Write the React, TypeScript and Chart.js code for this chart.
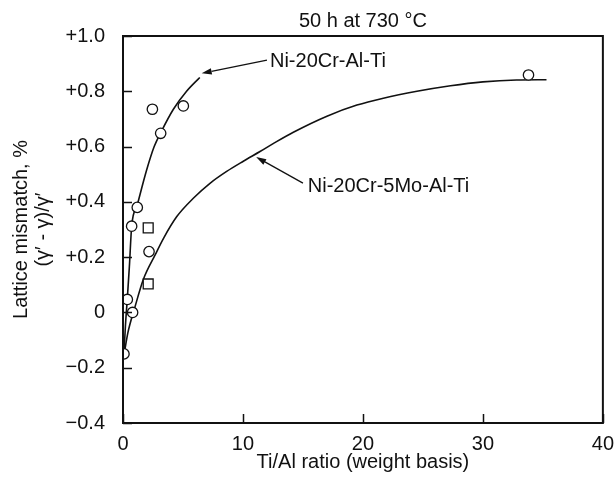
import React, { useEffect, useRef } from "react";
import { Chart, registerables } from "chart.js";

Chart.register(...registerables);

// ---------- text ----------
const TITLE = "50 h at 730 °C";
const X_TITLE = "Ti/Al ratio (weight basis)";
const Y_TITLE = ["Lattice mismatch, %", "(γ′ - γ)/γ′"];
const LABEL_A = "Ni-20Cr-Al-Ti";
const LABEL_B = "Ni-20Cr-5Mo-Al-Ti";

// ---------- axes ----------
const X_MIN = 0;
const X_MAX = 40;
const X_TICKS = [0, 10, 20, 30, 40];
const Y_MIN = -0.4;
const Y_MAX = 1.0;
const Y_TICKS = [-0.4, -0.2, 0, 0.2, 0.4, 0.6, 0.8, 1.0];
const Y_TICK_LABELS = ["−0.4", "−0.2", "0", "+0.2", "+0.4", "+0.6", "+0.8", "+1.0"];

// ---------- measured points ----------
const circleX = [0.08, 0.36, 0.8, 0.72, 1.19, 2.17, 2.45, 3.14, 5.03, 33.8];
const circleY = [-0.15, 0.047, 0.0, 0.312, 0.38, 0.22, 0.735, 0.648, 0.747, 0.859];
const squareX = [2.1, 2.1];
const squareY = [0.306, 0.103];

// ---------- fitted curves ----------
const curveAX = [0.08, 0.2, 0.36, 0.53, 0.72, 1.2, 1.97, 2.6, 3.2, 4.2, 5.3, 6.4];
const curveAY = [-0.15, -0.05, 0.05, 0.165, 0.31, 0.39, 0.515, 0.6, 0.655, 0.735, 0.8, 0.85];
const curveBX = [0.1, 0.4, 1.0, 1.7, 2.7, 3.4, 4.47, 5.86, 7.25, 8.64, 10.03, 11.42, 12.8, 14.2, 17.0, 19.5, 21.7, 24.5, 27.3, 30.0, 32.8, 35.3];
const curveBY = [-0.15, -0.075, 0.02, 0.12, 0.21, 0.27, 0.346, 0.413, 0.467, 0.51, 0.547, 0.582, 0.618, 0.652, 0.71, 0.75, 0.775, 0.8, 0.82, 0.834, 0.841, 0.842];

// ---------- annotations (data coordinates) ----------
const arrowAFrom = [12.0, 0.913];
const arrowATo = [6.56, 0.865];
const labelAAt = [12.25, 0.888];
const arrowBFrom = [15.0, 0.468];
const arrowBTo = [11.1, 0.562];
const labelBAt = [15.4, 0.436];

const FONT = "'Liberation Sans', Arial, Helvetica, sans-serif";
const INK = "#111";

function drawArrow(ctx: CanvasRenderingContext2D, x1: number, y1: number, x2: number, y2: number) {
  ctx.save();
  ctx.strokeStyle = INK;
  ctx.fillStyle = INK;
  ctx.lineWidth = 1.3;
  const ang = Math.atan2(y2 - y1, x2 - x1);
  const len = 10;
  const hw = 3.2;
  const bx = x2 - Math.cos(ang) * len;
  const by = y2 - Math.sin(ang) * len;
  ctx.beginPath();
  ctx.moveTo(x1, y1);
  ctx.lineTo(bx, by);
  ctx.stroke();
  ctx.beginPath();
  ctx.moveTo(x2, y2);
  ctx.lineTo(bx + Math.sin(ang) * hw, by - Math.cos(ang) * hw);
  ctx.lineTo(bx - Math.sin(ang) * hw, by + Math.cos(ang) * hw);
  ctx.closePath();
  ctx.fill();
  ctx.restore();
}

const decorPlugin = {
  id: "decor",
  afterDatasetsDraw(chart: any) {
    const { ctx, chartArea } = chart;
    const xs = chart.scales.x;
    const ys = chart.scales.y;
    const { left, right, top, bottom } = chartArea;
    ctx.save();
    // frame
    ctx.strokeStyle = INK;
    ctx.lineWidth = 2;
    ctx.strokeRect(left, top, right - left, bottom - top);
    // inward ticks
    ctx.lineWidth = 1.5;
    ctx.beginPath();
    for (const v of Y_TICKS) {
      const py = Math.round(ys.getPixelForValue(v)) + 0.5;
      ctx.moveTo(left, py);
      ctx.lineTo(left + 9, py);
    }
    for (const v of X_TICKS) {
      const px = Math.round(xs.getPixelForValue(v)) + 0.5;
      ctx.moveTo(px, bottom);
      ctx.lineTo(px, bottom - 9);
    }
    ctx.stroke();
    // title
    ctx.fillStyle = INK;
    ctx.font = `20px ${FONT}`;
    ctx.textAlign = "center";
    ctx.textBaseline = "alphabetic";
    ctx.fillText(TITLE, (left + right) / 2, 27);
    // labels
    ctx.textAlign = "left";
    ctx.fillText(LABEL_A, xs.getPixelForValue(labelAAt[0]), ys.getPixelForValue(labelAAt[1]));
    ctx.fillText(LABEL_B, xs.getPixelForValue(labelBAt[0]), ys.getPixelForValue(labelBAt[1]));
    ctx.restore();
    drawArrow(
      ctx,
      xs.getPixelForValue(arrowAFrom[0]),
      ys.getPixelForValue(arrowAFrom[1]),
      xs.getPixelForValue(arrowATo[0]),
      ys.getPixelForValue(arrowATo[1])
    );
    drawArrow(
      ctx,
      xs.getPixelForValue(arrowBFrom[0]),
      ys.getPixelForValue(arrowBFrom[1]),
      xs.getPixelForValue(arrowBTo[0]),
      ys.getPixelForValue(arrowBTo[1])
    );
  },
};

export default function App() {
  const ref = useRef<HTMLCanvasElement | null>(null);
  useEffect(() => {
    if (!ref.current) return;
    const pts = (xs: number[], ys: number[]) => xs.map((x, i) => ({ x, y: ys[i] }));
    const chart = new Chart(ref.current, {
      type: "scatter",
      data: {
        datasets: [
          {
            label: "circles",
            data: pts(circleX, circleY),
            pointStyle: "circle",
            pointRadius: 5.2,
            backgroundColor: "#fff",
            borderColor: INK,
            borderWidth: 1.3,
          },
          {
            label: "squares",
            data: pts(squareX, squareY),
            pointStyle: "rect",
            pointRadius: 7,
            backgroundColor: "#fff",
            borderColor: INK,
            borderWidth: 1.3,
          },
          {
            label: LABEL_A,
            data: pts(curveAX, curveAY),
            showLine: true,
            cubicInterpolationMode: "monotone",
            borderColor: INK,
            borderWidth: 1.6,
            pointRadius: 0,
            fill: false,
          },
          {
            label: LABEL_B,
            data: pts(curveBX, curveBY),
            showLine: true,
            cubicInterpolationMode: "monotone",
            borderColor: INK,
            borderWidth: 1.6,
            pointRadius: 0,
            fill: false,
          },
        ] as any,
      },
      options: {
        responsive: false,
        devicePixelRatio: 1,
        animation: false,
        layout: { padding: { left: 0, right: 12, top: 36, bottom: 0 } },
        plugins: {
          legend: { display: false },
          tooltip: { enabled: false },
          title: { display: false },
        },
        scales: {
          x: {
            type: "linear",
            min: X_MIN,
            max: X_MAX,
            afterFit: (s: any) => {
              s.height = 55;
            },
            afterBuildTicks: (s: any) => {
              s.ticks = X_TICKS.map((v) => ({ value: v }));
            },
            ticks: {
              color: INK,
              font: { family: FONT, size: 20 },
              padding: 1,
              maxRotation: 0,
              autoSkip: false,
            },
            grid: { display: false },
            border: { display: false },
            title: {
              display: true,
              text: X_TITLE,
              color: INK,
              font: { family: FONT, size: 20, lineHeight: 1.2 },
              padding: { top: 0, bottom: 4 },
            },
          },
          y: {
            type: "linear",
            min: Y_MIN,
            max: Y_MAX,
            afterFit: (s: any) => {
              s.width = 123;
            },
            afterBuildTicks: (s: any) => {
              s.ticks = Y_TICKS.map((v) => ({ value: v }));
            },
            ticks: {
              color: INK,
              font: { family: FONT, size: 20 },
              padding: 10,
              autoSkip: false,
              callback: (v: any) => {
                const i = Y_TICKS.findIndex((t) => Math.abs(t - Number(v)) < 1e-6);
                return i >= 0 ? Y_TICK_LABELS[i] : "";
              },
            },
            grid: { display: false },
            border: { display: false },
            title: {
              display: true,
              text: Y_TITLE,
              color: INK,
              font: { family: FONT, size: 20, lineHeight: 1.1 },
              padding: { top: 10, bottom: 0 },
            },
          },
        },
      } as any,
      plugins: [decorPlugin],
    });
    return () => chart.destroy();
  }, []);
  return (
    <div style={{ position: "absolute", left: 0, top: 0, width: 615, height: 478, background: "#fff" }}>
      <canvas ref={ref} width={615} height={478} style={{ display: "block", width: 615, height: 478 }} />
    </div>
  );
}
